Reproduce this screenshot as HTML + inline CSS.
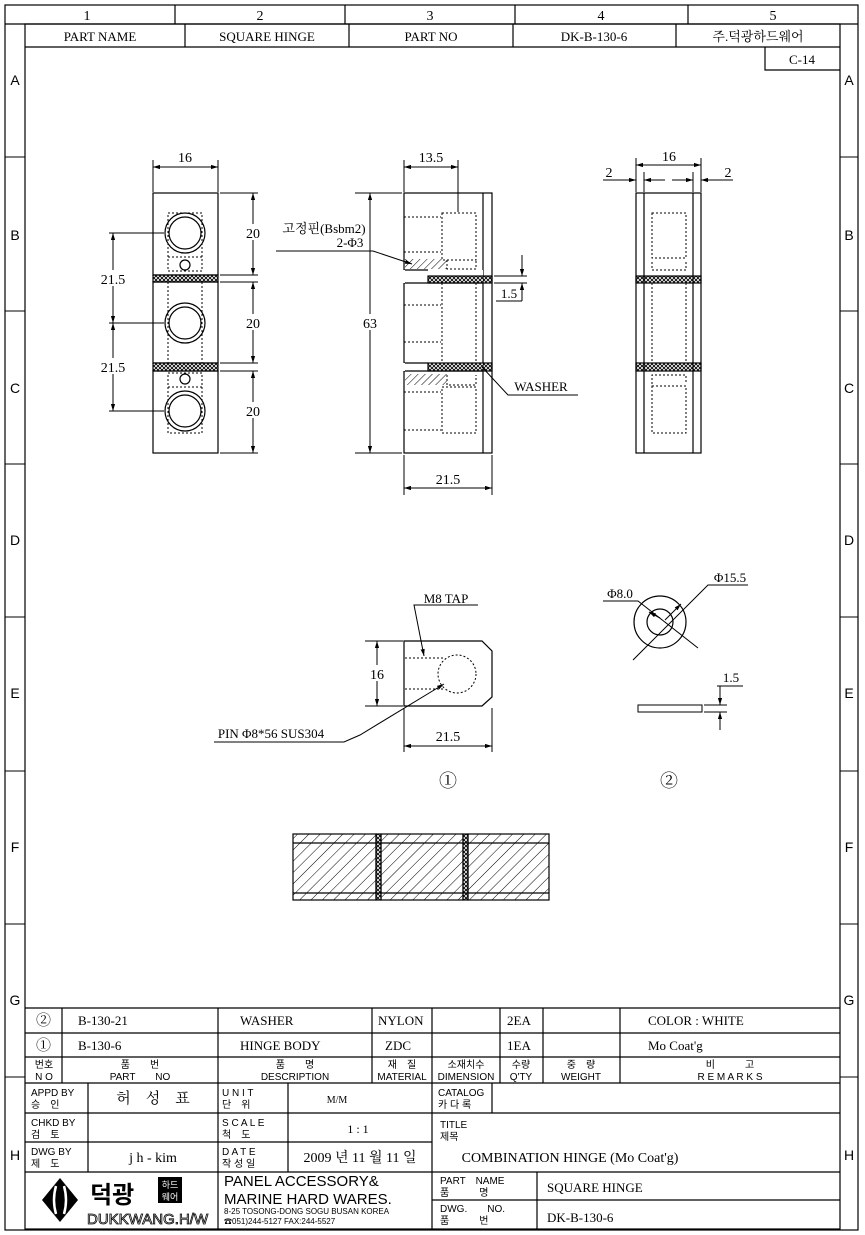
<!DOCTYPE html>
<html><head><meta charset="utf-8"><style>
html,body{margin:0;padding:0;background:#fff}
svg{display:block}
text{font-family:"Liberation Serif","Noto Serif CJK SC","Noto Sans CJK KR",serif;fill:#000}
.s{font-family:"Liberation Sans","Noto Sans CJK KR",sans-serif}
</style></head><body>
<svg width="865" height="1235" viewBox="0 0 865 1235" xmlns="http://www.w3.org/2000/svg">
<defs>
<pattern id="h" width="5" height="5" patternUnits="userSpaceOnUse" patternTransform="rotate(45)"><line x1="0" y1="0" x2="0" y2="5" stroke="#000" stroke-width="1"/></pattern>
<pattern id="hb" width="8" height="8" patternUnits="userSpaceOnUse" patternTransform="rotate(45)"><line x1="0" y1="0" x2="0" y2="8" stroke="#000" stroke-width="1"/></pattern>
<pattern id="x" width="4" height="4" patternUnits="userSpaceOnUse"><path d="M0 0L4 4M4 0L0 4" stroke="#000" stroke-width="0.9"/></pattern>
<marker id="a" viewBox="0 0 10 10" refX="10" refY="5" markerWidth="7" markerHeight="7" orient="auto-start-reverse"><path d="M0 2L10 5L0 8z" fill="#000"/></marker>
</defs>
<g fill="none" stroke="#000" stroke-width="1.2">
<rect x="5" y="5" width="853" height="1225"/>
<rect x="25" y="24" width="815" height="1205"/>
<line x1="5" y1="24" x2="858" y2="24"/>
<line x1="175" y1="5" x2="175" y2="24"/><line x1="345" y1="5" x2="345" y2="24"/><line x1="515" y1="5" x2="515" y2="24"/><line x1="688" y1="5" x2="688" y2="24"/>
<line x1="25" y1="47" x2="840" y2="47"/>
<line x1="185" y1="24" x2="185" y2="47"/><line x1="349" y1="24" x2="349" y2="47"/><line x1="513" y1="24" x2="513" y2="47"/><line x1="676" y1="24" x2="676" y2="47"/>
<polyline points="765,47 765,70 840,70"/>
<g stroke-width="1">
<line x1="5" y1="157" x2="25" y2="157"/><line x1="5" y1="311" x2="25" y2="311"/><line x1="5" y1="464" x2="25" y2="464"/><line x1="5" y1="617" x2="25" y2="617"/><line x1="5" y1="771" x2="25" y2="771"/><line x1="5" y1="924" x2="25" y2="924"/><line x1="5" y1="1077" x2="25" y2="1077"/>
<line x1="840" y1="157" x2="858" y2="157"/><line x1="840" y1="311" x2="858" y2="311"/><line x1="840" y1="464" x2="858" y2="464"/><line x1="840" y1="617" x2="858" y2="617"/><line x1="840" y1="771" x2="858" y2="771"/><line x1="840" y1="924" x2="858" y2="924"/><line x1="840" y1="1077" x2="858" y2="1077"/>
</g>
</g>
<g font-size="14" text-anchor="middle">
<text x="87" y="20">1</text><text x="260" y="20">2</text><text x="430" y="20">3</text><text x="601" y="20">4</text><text x="773" y="20">5</text>
<text x="100" y="41" font-size="13">PART NAME</text><text x="267" y="41" font-size="13">SQUARE HINGE</text><text x="431" y="41" font-size="13">PART NO</text><text x="594" y="41" font-size="13">DK-B-130-6</text><text x="758" y="41" font-size="13">주.덕광하드웨어</text>
<text x="802" y="64" font-size="13">C-14</text>
</g>
<g font-size="14" text-anchor="middle" class="s">
<text x="15" y="85" class="s">A</text><text x="15" y="240" class="s">B</text><text x="15" y="393" class="s">C</text><text x="15" y="545" class="s">D</text><text x="15" y="698" class="s">E</text><text x="15" y="852" class="s">F</text><text x="15" y="1005" class="s">G</text><text x="15" y="1160" class="s">H</text>
<text x="849" y="85" class="s">A</text><text x="849" y="240" class="s">B</text><text x="849" y="393" class="s">C</text><text x="849" y="545" class="s">D</text><text x="849" y="698" class="s">E</text><text x="849" y="852" class="s">F</text><text x="849" y="1005" class="s">G</text><text x="849" y="1160" class="s">H</text>
</g>

<!-- FRONT VIEW -->
<g fill="none" stroke="#000" stroke-width="1.2">
<rect x="153" y="193" width="65" height="82"/>
<rect x="153" y="275" width="65" height="7" fill="url(#x)"/>
<rect x="153" y="282" width="65" height="81"/>
<rect x="153" y="363" width="65" height="8" fill="url(#x)"/>
<rect x="153" y="371" width="65" height="82"/>
<circle cx="185" cy="233" r="20"/><circle cx="185" cy="233" r="16"/>
<circle cx="185" cy="323" r="20"/><circle cx="185" cy="323" r="16"/>
<circle cx="185" cy="411" r="20"/><circle cx="185" cy="411" r="16"/>
<circle cx="185" cy="265" r="5"/><circle cx="185" cy="379" r="5"/>
<g stroke-dasharray="2,2" stroke-width="1">
<rect x="168" y="213" width="34" height="58"/><line x1="168" y1="257" x2="202" y2="257"/>
<line x1="168" y1="282" x2="168" y2="363"/><line x1="202" y1="282" x2="202" y2="363"/>
<rect x="168" y="373" width="34" height="60"/><line x1="168" y1="387" x2="202" y2="387"/>
</g>
<g stroke-width="1">
<line x1="153" y1="160" x2="153" y2="192"/><line x1="218" y1="160" x2="218" y2="192"/>
<line x1="153" y1="167" x2="218" y2="167" marker-start="url(#a)" marker-end="url(#a)"/>
<line x1="220" y1="193" x2="258" y2="193"/><line x1="220" y1="275" x2="258" y2="275"/><line x1="220" y1="282" x2="258" y2="282"/><line x1="220" y1="363" x2="258" y2="363"/><line x1="220" y1="371" x2="258" y2="371"/><line x1="220" y1="453" x2="258" y2="453"/>
<line x1="253" y1="193" x2="253" y2="275" marker-start="url(#a)" marker-end="url(#a)"/>
<line x1="253" y1="282" x2="253" y2="363" marker-start="url(#a)" marker-end="url(#a)"/>
<line x1="253" y1="371" x2="253" y2="453" marker-start="url(#a)" marker-end="url(#a)"/>
<line x1="109" y1="233" x2="164" y2="233"/><line x1="109" y1="323" x2="164" y2="323"/><line x1="109" y1="411" x2="164" y2="411"/>
<line x1="113" y1="233" x2="113" y2="323" marker-start="url(#a)" marker-end="url(#a)"/>
<line x1="113" y1="323" x2="113" y2="411" marker-start="url(#a)" marker-end="url(#a)"/>
</g>
</g>
<g font-size="14" text-anchor="middle">
<rect x="246" y="224" width="14" height="16" fill="#fff"/><text x="253" y="238">20</text>
<rect x="246" y="314" width="14" height="16" fill="#fff"/><text x="253" y="328">20</text>
<rect x="246" y="402" width="14" height="16" fill="#fff"/><text x="253" y="416">20</text>
<text x="185" y="162">16</text>
<rect x="98" y="270" width="30" height="16" fill="#fff"/><text x="113" y="284">21.5</text>
<rect x="98" y="358" width="30" height="16" fill="#fff"/><text x="113" y="372">21.5</text>
</g>

<!-- SIDE VIEW -->
<g fill="none" stroke="#000" stroke-width="1.2">
<rect x="404" y="193" width="88" height="260"/>
<line x1="483" y1="193" x2="483" y2="453"/>
<rect x="404" y="270" width="79" height="13" fill="#fff" stroke="none"/>
<line x1="404" y1="270" x2="428" y2="270"/><line x1="404" y1="283" x2="483" y2="283"/>
<rect x="428" y="276" width="64" height="7" fill="url(#x)"/>
<line x1="404" y1="270" x2="404" y2="283" stroke="#fff" stroke-width="2"/>
<rect x="404" y="363" width="79" height="8" fill="#fff" stroke="none"/>
<line x1="404" y1="363" x2="428" y2="363"/><line x1="404" y1="371" x2="483" y2="371"/>
<rect x="428" y="363" width="64" height="8" fill="url(#x)"/>
<line x1="404" y1="363" x2="404" y2="371" stroke="#fff" stroke-width="2"/>
<rect x="405" y="259" width="42" height="10" fill="url(#h)" stroke="none"/>
<rect x="405" y="374" width="42" height="11" fill="url(#h)" stroke="none"/>
<g stroke-dasharray="2,2" stroke-width="1">
<rect x="442" y="213" width="34" height="47"/><polyline points="447,260 447,269 476,269 476,260"/>
<line x1="404" y1="217" x2="441" y2="217"/><line x1="404" y1="252" x2="441" y2="252"/>
<line x1="442" y1="283" x2="442" y2="363"/><line x1="476" y1="283" x2="476" y2="363"/>
<line x1="404" y1="305" x2="441" y2="305"/><line x1="404" y1="342" x2="441" y2="342"/>
<polyline points="447,375 447,385 476,385 476,375"/>
<rect x="442" y="387" width="34" height="46"/>
<line x1="404" y1="392" x2="441" y2="392"/><line x1="404" y1="430" x2="441" y2="430"/>
</g>
<g stroke-width="1">
<line x1="404" y1="160" x2="404" y2="192"/><line x1="458" y1="160" x2="458" y2="212"/>
<line x1="404" y1="167" x2="458" y2="167" marker-start="url(#a)" marker-end="url(#a)"/>
<line x1="355" y1="193" x2="402" y2="193"/><line x1="355" y1="453" x2="402" y2="453"/>
<line x1="370" y1="193" x2="370" y2="453" marker-start="url(#a)" marker-end="url(#a)"/>
<line x1="404" y1="455" x2="404" y2="495"/><line x1="492" y1="455" x2="492" y2="495"/>
<line x1="404" y1="488" x2="492" y2="488" marker-start="url(#a)" marker-end="url(#a)"/>
<polyline points="276,251 373,251 412,264" marker-end="url(#a)"/>
<line x1="494" y1="276" x2="527" y2="276"/><line x1="494" y1="283" x2="527" y2="283"/>
<line x1="522" y1="255" x2="522" y2="276" marker-end="url(#a)"/>
<line x1="522" y1="301" x2="522" y2="283" marker-end="url(#a)"/>
<line x1="496" y1="301" x2="522" y2="301"/>
<polyline points="482,367 508,395 578,395"/>
</g>
</g>
<g font-size="14" text-anchor="middle">
<text x="431" y="162">13.5</text>
<rect x="362" y="314" width="16" height="16" fill="#fff"/><text x="370" y="328">63</text>
<text x="448" y="484">21.5</text>
<text x="324" y="233" font-size="13">고정핀(Bsbm2)</text>
<text x="350" y="247" font-size="13">2-Φ3</text>
<text x="509" y="298" font-size="13">1.5</text>
<text x="541" y="391" font-size="13">WASHER</text>
</g>

<!-- RIGHT VIEW -->
<g fill="none" stroke="#000" stroke-width="1.2">
<rect x="636" y="193" width="65" height="260"/>
<line x1="644" y1="193" x2="644" y2="453"/><line x1="693" y1="193" x2="693" y2="453"/>
<rect x="636" y="276" width="65" height="7" fill="url(#x)"/>
<rect x="636" y="363" width="65" height="8" fill="url(#x)"/>
<g stroke-dasharray="2,2" stroke-width="1">
<rect x="652" y="213" width="34" height="45"/><polyline points="652,262 652,270 686,270 686,262"/>
<line x1="652" y1="283" x2="652" y2="363"/><line x1="686" y1="283" x2="686" y2="363"/>
<polyline points="652,384 652,375 686,375 686,384"/>
<rect x="652" y="386" width="34" height="47"/>
</g>
<g stroke-width="1">
<line x1="636" y1="158" x2="636" y2="192"/><line x1="701" y1="158" x2="701" y2="192"/><line x1="644" y1="172" x2="644" y2="192"/><line x1="693" y1="172" x2="693" y2="192"/>
<line x1="636" y1="165" x2="701" y2="165" marker-start="url(#a)" marker-end="url(#a)"/>
<line x1="603" y1="180" x2="636" y2="180" marker-end="url(#a)"/>
<line x1="665" y1="180" x2="644" y2="180" marker-end="url(#a)"/>
<line x1="672" y1="180" x2="693" y2="180" marker-end="url(#a)"/>
<line x1="733" y1="180" x2="701" y2="180" marker-end="url(#a)"/>
</g>
</g>
<g font-size="14" text-anchor="middle">
<text x="669" y="161">16</text><text x="609" y="177">2</text><text x="728" y="177">2</text>
</g>

<!-- PART 1 -->
<g fill="none" stroke="#000" stroke-width="1.2">
<polygon points="404,641 482,641 492,651 492,697 482,706 404,706"/>
<g stroke-dasharray="2,2" stroke-width="1">
<line x1="405" y1="658" x2="445" y2="658"/><line x1="405" y1="689" x2="445" y2="689"/>
<circle cx="457" cy="674" r="19"/>
</g>
<g stroke-width="1">
<line x1="365" y1="641" x2="403" y2="641"/><line x1="365" y1="706" x2="403" y2="706"/>
<line x1="377" y1="641" x2="377" y2="706" marker-start="url(#a)" marker-end="url(#a)"/>
<line x1="404" y1="708" x2="404" y2="752"/><line x1="492" y1="708" x2="492" y2="752"/>
<line x1="404" y1="746" x2="492" y2="746" marker-start="url(#a)" marker-end="url(#a)"/>
<polyline points="478,605 414,605 424,656" marker-end="url(#a)"/>
<polyline points="214,742 344,742 360,735 444,684" marker-end="url(#a)"/>
</g>
</g>
<g font-size="14" text-anchor="middle">
<rect x="368" y="665" width="18" height="16" fill="#fff"/><text x="377" y="679">16</text>
<text x="448" y="741">21.5</text>
<text x="446" y="603" font-size="13">M8 TAP</text>
<text x="271" y="738" font-size="13">PIN Φ8*56 SUS304</text>
<text x="448" y="787" font-size="18">①</text>
<text x="669" y="787" font-size="18">②</text>
</g>

<!-- PART 2 -->
<g fill="none" stroke="#000" stroke-width="1.2">
<circle cx="660" cy="622" r="26"/><circle cx="660" cy="622" r="13"/>
<g stroke-width="1">
<polyline points="603,601 638,601 698,648" />
<line x1="660" y1="618" x2="649" y2="612" marker-end="url(#a)"/>
<polyline points="748,585 708,585 633,660"/>
<line x1="665" y1="620" x2="681" y2="604" marker-end="url(#a)"/>
<rect x="638" y="705" width="64" height="7"/>
<line x1="704" y1="705" x2="727" y2="705"/><line x1="704" y1="712" x2="727" y2="712"/>
<line x1="720" y1="686" x2="720" y2="705" marker-end="url(#a)"/>
<line x1="720" y1="730" x2="720" y2="712" marker-end="url(#a)"/>
<line x1="717" y1="686" x2="743" y2="686"/>
</g>
</g>
<g font-size="13" text-anchor="middle">
<text x="620" y="598">Φ8.0</text><text x="730" y="582">Φ15.5</text><text x="731" y="682">1.5</text>
</g>

<!-- SECTION -->
<g stroke="#000" stroke-width="1.2">
<rect x="293" y="834" width="83" height="66" fill="url(#hb)"/>
<rect x="376" y="834" width="5" height="66" fill="url(#x)"/>
<rect x="381" y="834" width="82" height="66" fill="url(#hb)"/>
<rect x="463" y="834" width="5" height="66" fill="url(#x)"/>
<rect x="468" y="834" width="81" height="66" fill="url(#hb)"/>
<line x1="293" y1="843" x2="549" y2="843"/><line x1="293" y1="893" x2="549" y2="893"/>
</g>

<!-- TITLE BLOCK -->
<g fill="none" stroke="#000" stroke-width="1.2">
<line x1="25" y1="1008" x2="840" y2="1008"/><line x1="25" y1="1033" x2="840" y2="1033"/><line x1="25" y1="1057" x2="840" y2="1057"/><line x1="25" y1="1083" x2="840" y2="1083"/><line x1="25" y1="1113" x2="432" y2="1113"/><line x1="25" y1="1142" x2="432" y2="1142"/><line x1="25" y1="1172" x2="840" y2="1172"/><line x1="432" y1="1113" x2="840" y2="1113"/><line x1="432" y1="1200" x2="840" y2="1200"/>
<line x1="62" y1="1008" x2="62" y2="1083"/><line x1="218" y1="1008" x2="218" y2="1083"/><line x1="372" y1="1008" x2="372" y2="1083"/><line x1="432" y1="1008" x2="432" y2="1229"/><line x1="500" y1="1008" x2="500" y2="1083"/><line x1="543" y1="1008" x2="543" y2="1083"/><line x1="620" y1="1008" x2="620" y2="1083"/>
<line x1="88" y1="1083" x2="88" y2="1172"/><line x1="218" y1="1083" x2="218" y2="1229"/><line x1="288" y1="1083" x2="288" y2="1172"/><line x1="492" y1="1083" x2="492" y2="1113"/><line x1="537" y1="1172" x2="537" y2="1229"/>
</g>
<g font-size="13">
<text x="36" y="1025" font-size="15">②</text><text x="78" y="1025">B-130-21</text><text x="240" y="1025">WASHER</text><text x="378" y="1025">NYLON</text><text x="507" y="1025">2EA</text><text x="648" y="1025">COLOR : WHITE</text>
<text x="36" y="1050" font-size="15">①</text><text x="78" y="1050">B-130-6</text><text x="240" y="1050">HINGE BODY</text><text x="385" y="1050">ZDC</text><text x="507" y="1050">1EA</text><text x="648" y="1050">Mo Coat'g</text>
</g>
<g font-size="10" text-anchor="middle" class="s">
<text class="s" x="44" y="1068">번호</text><text class="s" x="44" y="1080">N O</text>
<text class="s" x="140" y="1068">품　　번</text><text class="s" x="140" y="1080">PART　　NO</text>
<text class="s" x="295" y="1068">품　　명</text><text class="s" x="295" y="1080">DESCRIPTION</text>
<text class="s" x="402" y="1068">재　질</text><text class="s" x="402" y="1080">MATERIAL</text>
<text class="s" x="466" y="1068">소재치수</text><text class="s" x="466" y="1080">DIMENSION</text>
<text class="s" x="521" y="1068">수량</text><text class="s" x="521" y="1080">Q'TY</text>
<text class="s" x="581" y="1068">중　량</text><text class="s" x="581" y="1080">WEIGHT</text>
<text class="s" x="730" y="1068">비　　　고</text><text class="s" x="730" y="1080">R E M A R K S</text>
</g>
<g font-size="10" class="s">
<text class="s" x="31" y="1096">APPD BY</text><text class="s" x="31" y="1108">승　인</text>
<text class="s" x="31" y="1126">CHKD BY</text><text class="s" x="31" y="1138">검　토</text>
<text class="s" x="31" y="1155">DWG BY</text><text class="s" x="31" y="1167">제　도</text>
<text class="s" x="222" y="1096">U N I T</text><text class="s" x="222" y="1108">단　위</text>
<text class="s" x="222" y="1126">S C A L E</text><text class="s" x="222" y="1138">척　도</text>
<text class="s" x="222" y="1155">D A T E</text><text class="s" x="222" y="1167">작 성 일</text>
<text class="s" x="438" y="1096">CATALOG</text><text class="s" x="438" y="1108">카 다 록</text>
<text class="s" x="440" y="1128">TITLE</text><text class="s" x="440" y="1140">제목</text>
<text class="s" x="440" y="1184">PART　NAME</text><text class="s" x="440" y="1196">품　　　명</text>
<text class="s" x="440" y="1212">DWG.　　NO.</text><text class="s" x="440" y="1224">품　　　번</text>
</g>
<g font-size="14" text-anchor="middle">
<text x="153" y="1103" font-size="15">허　성　표</text>
<text x="337" y="1103" font-size="10">M/M</text>
<text x="358" y="1133" font-size="12">1 : 1</text>
<text x="153" y="1162">j h - kim</text>
<text x="360" y="1162">2009 년 11 월 11 일</text>
<text x="570" y="1162">COMBINATION HINGE (Mo Coat'g)</text>
</g>
<g font-size="13"><text x="547" y="1192">SQUARE HINGE</text><text x="547" y="1222">DK-B-130-6</text></g>
<!-- logo -->
<polygon points="60,1178 78,1200 60,1222 42,1200" fill="#000"/>
<path d="M56 1186 Q52 1200 56 1214 M64 1186 Q68 1200 64 1214" stroke="#fff" stroke-width="2.5" fill="none"/>
<text x="90" y="1203" font-size="24" font-weight="bold" class="s" font-family="Noto Sans CJK KR,sans-serif">덕광</text>
<rect x="158" y="1177" width="24" height="26" fill="#000"/>
<text x="170" y="1188" font-size="9" fill="#fff" text-anchor="middle" class="s" style="fill:#fff">하드</text>
<text x="170" y="1200" font-size="9" text-anchor="middle" class="s" style="fill:#fff">웨어</text>
<text x="87" y="1224" font-size="15" class="s" fill="none" stroke="#000" stroke-width="0.8" style="fill:#fff">DUKKWANG.H/W</text>
<g class="s"><text class="s" x="224" y="1186" font-size="15">PANEL ACCESSORY&amp;</text>
<text class="s" x="224" y="1204" font-size="15">MARINE HARD WARES.</text>
<text class="s" x="224" y="1214" font-size="8">8-25 TOSONG-DONG SOGU BUSAN KOREA</text>
<text class="s" x="224" y="1224" font-size="8">☎051)244-5127 FAX:244-5527</text></g>
</svg>
</body></html>
